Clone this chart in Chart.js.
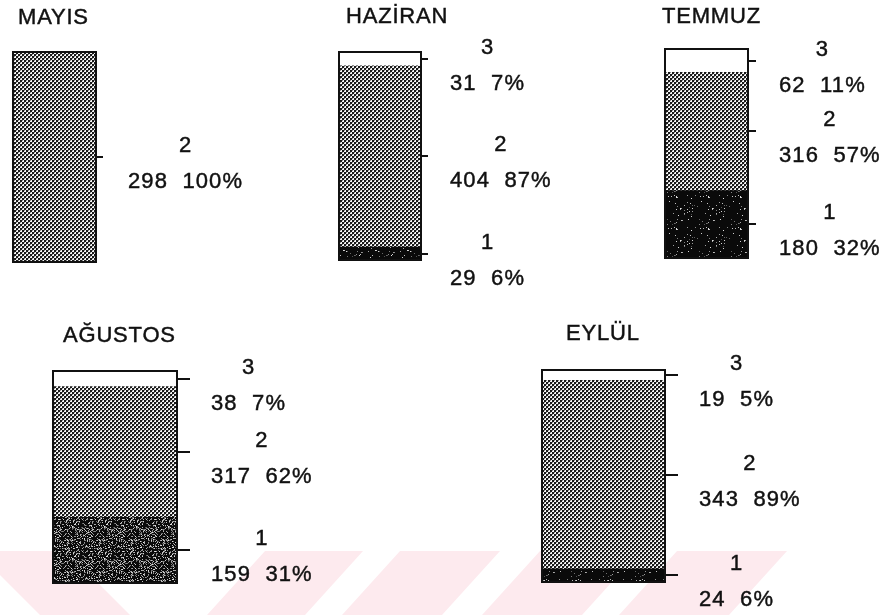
<!DOCTYPE html>
<html>
<head>
<meta charset="utf-8">
<script src="https://cdn.jsdelivr.net/npm/chart.js@4.4.1/dist/chart.umd.min.js"></script>
<style>
  html, body { margin: 0; padding: 0; background: #fff; }
  #page { position: relative; width: 891px; height: 615px; overflow: hidden; }
  #page canvas { position: absolute; left: 0; top: 0; }
</style>
</head>
<body>
<div id="page">
  <canvas id="bg" width="891" height="615"></canvas>
</div>
<script>
// Monthly counts per category (1, 2, 3)
const months = ['MAYIS', 'HAZİRAN', 'TEMMUZ', 'AĞUSTOS', 'EYLÜL'];
const categoryNames = ['1', '2', '3'];
const counts1 = [0, 29, 180, 159, 24];
const counts2 = [298, 404, 316, 317, 343];
const counts3 = [0, 31, 62, 38, 19];

// Where each month's bar sits on the page
const panels = [
  { bar: [13, 52, 96, 262],    title: [18, 24],  tick: 7,  labelGap: 32, grain: 0.08 },
  { bar: [339, 52, 421, 260],  title: [346, 23], tick: 7,  labelGap: 29, grain: 0.08 },
  { bar: [665, 49, 748, 258],  title: [662, 23], tick: 8,  labelGap: 31, grain: 0.05 },
  { bar: [53, 371, 177, 583],  title: [63, 342], tick: 13, labelGap: 34, grain: 0.30 },
  { bar: [542, 370, 665, 582], title: [566, 340], tick: 13, labelGap: 34, grain: 0.06 }
];

const FONT = '22px "Liberation Sans", Arial, sans-serif';
const INK = '#111111';

// faint stripes along the bottom of the sheet
(function drawBackground() {
  const g = document.getElementById('bg').getContext('2d');
  g.fillStyle = '#fdeaee';
  const y0 = 551, y1 = 615;
  const back = [[-24, 66]];                                        // "\" stripe, top edge
  const fwd = [[265, 363], [400, 500], [540, 640], [677, 787]];    // "/" stripes, top edge
  back.forEach(([a, b]) => {
    g.beginPath(); g.moveTo(a, y0); g.lineTo(b, y0); g.lineTo(b + 64, y1); g.lineTo(a + 64, y1); g.closePath(); g.fill();
  });
  fwd.forEach(([a, b]) => {
    g.beginPath(); g.moveTo(a, y0); g.lineTo(b, y0); g.lineTo(b - 58, y1); g.lineTo(a - 58, y1); g.closePath(); g.fill();
  });
})();

function dotPattern(ctx) {
  const c = document.createElement('canvas');
  c.width = c.height = 4;
  const g = c.getContext('2d');
  g.fillStyle = '#f6f6f6'; g.fillRect(0, 0, 4, 4);
  g.fillStyle = '#1a1a1a';
  g.fillRect(0, 0, 2, 2); g.fillRect(2, 2, 2, 2);
  g.fillStyle = '#8a8a8a';
  g.fillRect(2, 0, 1, 1); g.fillRect(0, 2, 1, 1);
  return ctx.createPattern(c, 'repeat');
}

function grainPattern(ctx, density) {
  const n = 32;
  const c = document.createElement('canvas');
  c.width = c.height = n;
  const g = c.getContext('2d');
  g.fillStyle = '#0a0a0a'; g.fillRect(0, 0, n, n);
  for (let y = 0; y < n; y++) {
    for (let x = 0; x < n; x++) {
      const h = (((x * 374761393) ^ (y * 668265263)) >>> 0) % 1000 / 1000;
      if (h < density) {
        const v = 80 + Math.floor((h / density) * 150);
        g.fillStyle = `rgb(${v},${v},${v})`;
        g.fillRect(x, y, 1, 1);
      }
    }
  }
  return ctx.createPattern(c, 'repeat');
}

function heavyText(ctx, text, x, y) {
  ctx.fillText(text, x, y);
  ctx.strokeText(text, x, y);
}

// titles, tick marks, outline and segment labels
const annotate = {
  id: 'annotate',
  afterDatasetsDraw(chart, args, opts) {
    const { ctx, chartArea: a, scales } = chart;
    const ys = scales.y;
    const p = opts.panel;
    ctx.save();
    ctx.strokeStyle = INK;
    ctx.lineWidth = 2;
    ctx.strokeRect(a.left, a.top, a.right - a.left, a.bottom - a.top);

    ctx.font = FONT;
    ctx.fillStyle = INK;
    ctx.textBaseline = 'alphabetic';
    ctx.textAlign = 'left';
    ctx.letterSpacing = '0.8px';
    ctx.lineWidth = 0.45;
    heavyText(ctx, opts.title, p.title[0], p.title[1]);

    const vals = chart.data.datasets.map(d => d.data[0]);
    const total = vals.reduce((s, v) => s + v, 0);
    let base = 0;
    vals.forEach((v, i) => {
      if (v > 0) {
        const y = Math.round(ys.getPixelForValue(base + v / 2));
        ctx.lineWidth = 2;
        ctx.beginPath();
        ctx.moveTo(a.right, y);
        ctx.lineTo(a.right + p.tick, y);
        ctx.stroke();

        ctx.letterSpacing = '1.1px';
        ctx.lineWidth = 0.45;
        const text = v + '  ' + Math.round(v / total * 100) + '%';
        const left = a.right + p.labelGap;
        const w = ctx.measureText(text).width;
        ctx.textAlign = 'left';
        heavyText(ctx, text, left, y + 31);
        ctx.textAlign = 'center';
        heavyText(ctx, chart.data.datasets[i].label, left + w / 2, y - 5);
      }
      base += v;
    });
    ctx.restore();
  }
};

const page = document.getElementById('page');
months.forEach((month, m) => {
  const p = panels[m];
  const cv = document.createElement('canvas');
  cv.width = 891; cv.height = 615;
  page.appendChild(cv);
  const ctx = cv.getContext('2d');
  const values = [counts1[m], counts2[m], counts3[m]];
  const fills = [grainPattern(ctx, p.grain), dotPattern(ctx), '#ffffff'];
  const total = values.reduce((s, v) => s + v, 0);
  new Chart(cv, {
    type: 'bar',
    data: {
      labels: [month],
      datasets: categoryNames.map((name, i) => ({
        label: name,
        data: [values[i]],
        backgroundColor: fills[i],
        borderWidth: 0,
        barPercentage: 1,
        categoryPercentage: 1
      }))
    },
    options: {
      responsive: false,
      animation: false,
      devicePixelRatio: 1,
      layout: { padding: { left: p.bar[0], top: p.bar[1], right: 891 - p.bar[2], bottom: 615 - p.bar[3] } },
      scales: {
        x: { stacked: true, display: false },
        y: { stacked: true, display: false, min: 0, max: total }
      },
      plugins: {
        legend: { display: false },
        tooltip: { enabled: false },
        annotate: { panel: p, title: month }
      },
      events: []
    },
    plugins: [annotate]
  });
});
</script>
</body>
</html>
